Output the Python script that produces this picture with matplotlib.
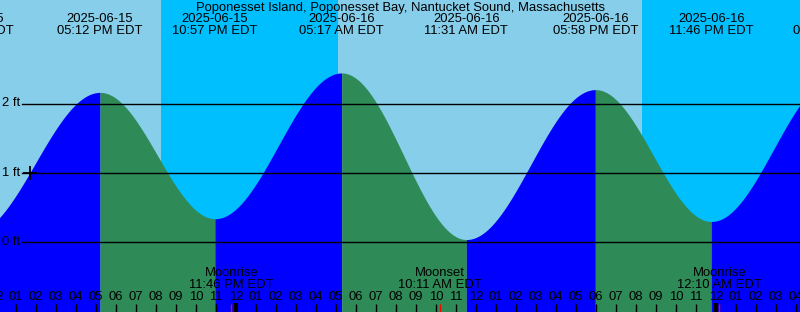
import numpy as np
import matplotlib
matplotlib.use("Agg")
import matplotlib.pyplot as plt
import matplotlib.transforms as mtransforms

plt.rcParams['font.family'] = ['Liberation Sans', 'DejaVu Sans']

# ---- data (hours counted from 2025-06-15 00:00 EDT) ----
title = "Poponesset Island, Poponesset Bay, Nantucket Sound, Massachusetts"
tide_hours = [10.75, 17.2, 22.95, 29.283, 35.517, 41.967, 47.767, 53.98]
tide_heights = [0.12, 2.16, 0.34, 2.44, 0.04, 2.20, 0.30, 2.37]
tide_dates = ["2025-06-15", "2025-06-15", "2025-06-15", "2025-06-16",
              "2025-06-16", "2025-06-16", "2025-06-16", "2025-06-17"]
tide_times = ["10:45 AM EDT", "05:12 PM EDT", "10:57 PM EDT", "05:17 AM EDT",
              "11:31 AM EDT", "05:58 PM EDT", "11:46 PM EDT", "05:59 AM EDT"]
sunset_hours = [20.25, 44.3]
sunrise_hours = [29.1]
moon_hours = [23.767, 34.183, 48.167]
moon_names = ["Moonrise", "Moonset", "Moonrise"]
moon_times = ["11:46 PM EDT", "10:11 AM EDT", "12:10 AM EDT"]
mark_level = 1.0
mark_hour = 13.7
grid_levels = [0, 1, 2]
grid_labels = ["0 ft", "1 ft", "2 ft"]

# ---- colours ----
DAY = "#87CEEB"
NIGHT = "#00BFFF"
RISE = "#0000FF"
FALL = "#2E8B57"

W, H = 800, 312
x0, x1 = 12.2, 52.2
px_per_ft = 69.4
zero_px = 242.3
y_top = zero_px / px_per_ft
y_bot = -(H - zero_px) / px_per_ft
FS = 9.4

fig = plt.figure(figsize=(W / 100, H / 100), dpi=100)
ax = fig.add_axes([0, 0, 1, 1])
ax.set_xlim(x0, x1)
ax.set_ylim(y_bot, y_top)
ax.axis("off")

# day / night background
ax.axvspan(x0 - 1, x1 + 1, color=DAY, lw=0, zorder=0)
ax.axvspan(sunset_hours[0], sunrise_hours[0], color=NIGHT, lw=0, zorder=0.5)
ax.axvspan(sunset_hours[1], x1 + 1, color=NIGHT, lw=0, zorder=0.5)

# tide curve (cosine between extremes)
for i in range(len(tide_hours) - 1):
    t0, t1 = tide_hours[i], tide_hours[i + 1]
    v0, v1 = tide_heights[i], tide_heights[i + 1]
    hh = np.linspace(t0, t1, 300)
    vv = v0 + (v1 - v0) * (1 - np.cos(np.pi * (hh - t0) / (t1 - t0))) / 2
    c = RISE if v1 > v0 else FALL
    ax.fill_between(hh, y_bot - 1, vv, color=c, lw=0, zorder=1)

# grid lines
blend = mtransforms.blended_transform_factory(ax.transAxes, ax.transData)
for lv, lab in zip(grid_levels, grid_labels):
    ax.plot([22 / W, 1], [lv, lv], color="black", lw=1.0, transform=blend, zorder=2)
    ax.text(2 / W, lv, lab, transform=blend, ha="left", va="center",
            fontsize=FS, color="black", zorder=3)

ax.plot([mark_hour], [mark_level], marker="+", color="black", ms=10, mew=1.3, zorder=3)

# title & tide labels
ax.text(0.5, 1 - 8 / H, title, transform=ax.transAxes, ha="center", va="center",
        fontsize=FS, zorder=4)
bx = mtransforms.blended_transform_factory(ax.transData, ax.transAxes)
for th, d, t in zip(tide_hours, tide_dates, tide_times):
    ax.text(th, 1 - 19 / H, d, transform=bx, ha="center", va="center", fontsize=FS, zorder=4)
    ax.text(th, 1 - 31.5 / H, t, transform=bx, ha="center", va="center", fontsize=FS, zorder=4)

# hour ticks and labels
hours = np.arange(12, 53)
for h in hours:
    lab = "%02d" % (((h - 1) % 12) + 1)
    ax.text(h, 1 - 297 / H, lab, transform=bx, ha="center", va="center",
            fontsize=FS, zorder=4)
    if h % 24 == 0:
        ax.plot([h, h], [0, 9 / H], transform=bx, color="black", lw=3, zorder=5,
                solid_capstyle="butt")
    else:
        ax.plot([h, h], [0, 8 / H], transform=bx, color="black", lw=1, zorder=5,
                solid_capstyle="butt")

# moon events
for mh, mn, mt in zip(moon_hours, moon_names, moon_times):
    ax.plot([mh, mh], [0, 8 / H], transform=bx, color="red", lw=1, zorder=5,
            solid_capstyle="butt")
    ax.text(mh, 1 - 273.5 / H, mn, transform=bx, ha="center", va="center", fontsize=FS, zorder=4)
    ax.text(mh, 1 - 285.5 / H, mt, transform=bx, ha="center", va="center", fontsize=FS, zorder=4)

fig.savefig("out.png", dpi=100)
